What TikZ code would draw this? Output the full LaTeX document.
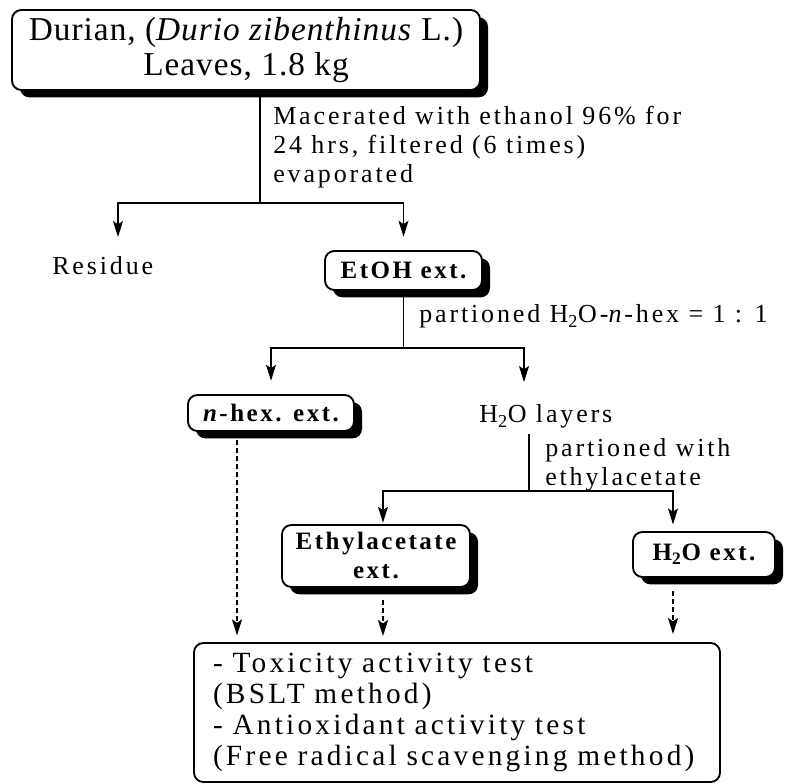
\documentclass[tikz,border=0pt]{standalone}
\usepackage{fontspec}
\setmainfont{Liberation Serif}
\newfontfamily\bodyfont{Liberation Serif}[LetterSpace=11]
\newfontfamily\boldfont{Liberation Serif}[LetterSpace=10]
\newfontfamily\headfont{Liberation Serif}[LetterSpace=3]
\newcommand\bodysize{\fontsize{19.5}{21.75}\selectfont}
\newcommand\testsize{\fontsize{22}{23.25}\selectfont}
\usetikzlibrary{arrows.meta,shadows}

\begin{document}
\begin{tikzpicture}[x=0.75pt,y=-0.75pt,font=\bodyfont\bodysize,
        txt/.style={inner sep=0pt},
        box/.style={draw,fill=white,rounded corners=7pt,line width=1.4pt,inner sep=0pt,align=center},
        shadowbox/.style={box,drop shadow={shadow xshift=6pt,shadow yshift=-5.5pt,fill=black,opacity=1}},
        bold/.style={font=\boldfont\fontsize{18.75}{21.75}\selectfont\bfseries},
        line/.style={line width=1.1pt},
        conn/.style={line,-{Stealth[length=12pt,width=7.5pt,inset=2.5pt]}},
        dotarrow/.style={conn,line width=1.6pt,dash pattern=on 3.5pt off 2.5pt}]
        \useasboundingbox (0,0) rectangle (790,784);

        % plant material
        \node[shadowbox,font=\headfont\fontsize{25}{26}\selectfont,minimum width=351pt,minimum height=60pt] (top) at (246,50) {Durian, (\textit{Durio zibenthinus} L.)\\Leaves, 1.8 kg};
        \coordinate (split1) at (260,203);
        \draw[line] (top.south -| split1) -- (split1);
        \node[txt,anchor=west,align=left] (macer) at (273,147) {Macerated with ethanol 96\% for\\24 hrs, filtered (6 times)\\evaporated};

        \coordinate (resarr) at (118,237);
        \node[txt,anchor=base west] (res) at (52,275) {Residue};
        \node[shadowbox,bold,minimum width=117.75pt,minimum height=29.25pt] (etoh) at (403.5,270.5) {EtOH ext.};
        \draw[conn] (split1) -| (resarr);
        \draw[conn,shorten >=10pt] (split1) -| (etoh);

        % partition with n-hexane
        \coordinate (split2) at (403.5,348);
        \draw[line] (etoh) -- (split2);
        \node[txt,anchor=base west] (part1) at (419,323) {partioned H\textsubscript{2}O-\textit{n}-hex = 1 : 1};
        \node[shadowbox,bold,minimum width=124.5pt,minimum height=27pt] (nhex) at (271,413) {\textit{n}-hex. ext.};
        \node[txt,anchor=base west] (layers) at (479,423) {H\textsubscript{2}O layers};
        \coordinate (layarr) at (524,382);
        \draw[conn,shorten >=10pt] (split2) -| (nhex);
        \draw[conn] (split2) -| (layarr);

        % partition with ethylacetate
        \coordinate (split3) at (529,491);
        \draw[line] ([yshift=-4pt]layers.south -| split3) -- (split3);
        \node[txt,anchor=west,align=left] (part2) at (545,465) {partioned with\\ethylacetate};
        \node[shadowbox,bold,minimum width=141pt,minimum height=46.5pt] (ethyl) at (376,556) {Ethylacetate\\ext.};
        \node[shadowbox,bold,minimum width=106.5pt,minimum height=33.75pt] (water) at (704,554.5) {H\textsubscript{2}O ext.};
        \draw[conn,shorten >=1pt] (split3) -| ([xshift=5.25pt]ethyl.north);
        \draw[conn,shorten >=5pt] (split3) -| ([xshift=-23.25pt]water.north);

        % activity tests
        \node[box,font=\bodyfont\testsize,align=left,text width=366pt,inner xsep=14.25pt,minimum height=104.25pt] (test) at (457,712.5) {- Toxicity activity test\\(BSLT method)\\- Antioxidant activity test\\(Free radical scavenging method)};
        \draw[dotarrow,shorten <=6pt,shorten >=5pt] ([xshift=-25.5pt]nhex.south) -- ([xshift=-25.5pt]nhex.south |- test.north);
        \draw[dotarrow,shorten <=9pt,shorten >=4.5pt] ([xshift=5.25pt]ethyl.south) -- ([xshift=5.25pt]ethyl.south |- test.north);
        \draw[dotarrow,shorten <=9.75pt,shorten >=6pt] ([xshift=-23.25pt]water.south) -- ([xshift=-23.25pt]water.south |- test.north);
\end{tikzpicture}
\end{document}
